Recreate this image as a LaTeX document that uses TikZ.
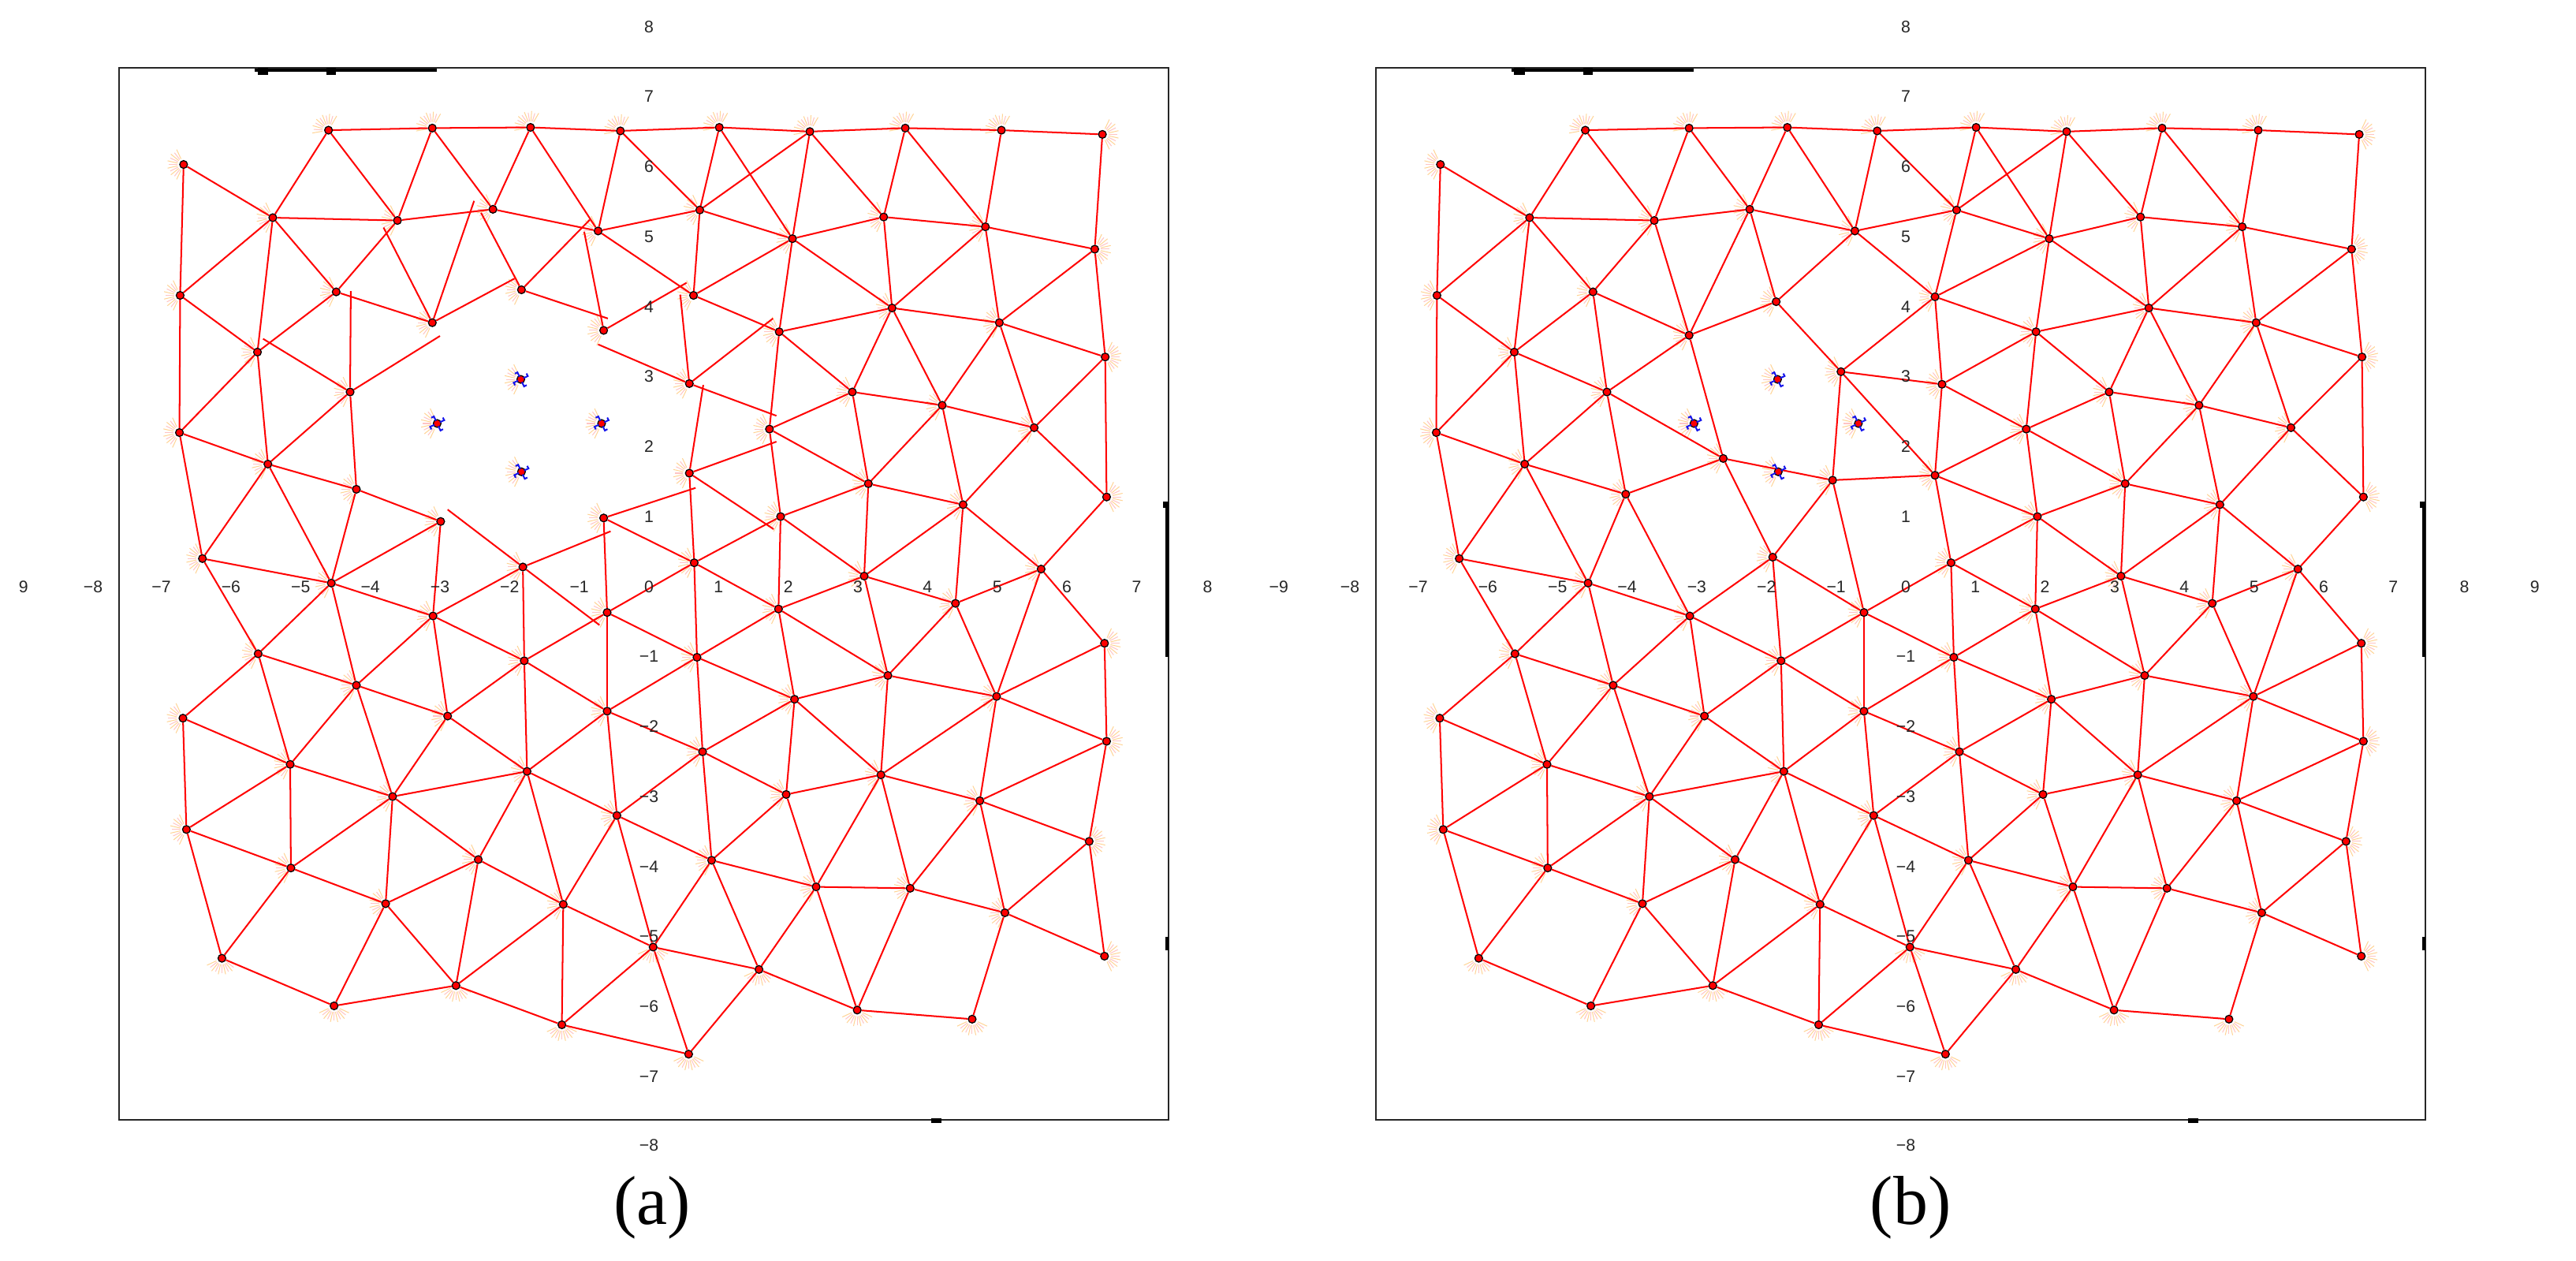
\documentclass[tikz,border=0pt]{standalone}
\usepackage{fontspec}
\setmainfont{Liberation Serif}
\newfontfamily\tickfont{Liberation Sans}
\usetikzlibrary{backgrounds}
\definecolor{meshred}{RGB}{255,0,0}
\definecolor{haloA}{RGB}{255,212,150}
\definecolor{haloB}{RGB}{255,196,196}
\definecolor{ancblue}{RGB}{20,20,235}
\tikzset{
  pt/.style={circle,fill=red,draw=black,line width=0.35pt,inner sep=0pt,minimum size=0.095cm},
  edge/.style={draw=meshred,line width=0.55pt},
  halo/.style={line width=0.28pt},
  frm/.style={draw=black!85,line width=0.5pt},
  ticklab/.style={font=\tickfont\fontsize{5.8}{6}\selectfont,inner sep=0pt,text=black!85},
  captxt/.style={font=\fontsize{24}{26}\selectfont,inner sep=0pt}
}
\newcommand\nd[3]{%
  \node[pt] (#1) at (#2,#3) {};%
  \begin{pgfonlayer}{background}%
    \pgfmathsetmacro\hang{(#2>6.2)?0:((#3<-5.0)?270:((#3>6.3)?125:180))}%
    \foreach \k in {-65,-39,...,65}{\draw[halo,haloA] ([shift={(\hang+\k:0.075cm)}]#1.center) -- ([shift={(\hang+\k:0.2cm)}]#1.center);}%
    \foreach \k in {-52,-26,...,52}{\draw[halo,haloB] ([shift={(\hang+\k:0.075cm)}]#1.center) -- ([shift={(\hang+\k:0.18cm)}]#1.center);}%
  \end{pgfonlayer}}
\newcommand\anc[3]{%
  \nd{#1}{#2}{#3}%
  \foreach \t in {25,115,205,295}{\draw[ancblue,line width=0.55pt] ([shift={(\t:0.035cm)}]#1.center) -- ([shift={(\t:0.095cm)}]#1.center) -- ([shift={(\t+21:0.1cm)}]#1.center);}}
\newcommand\commonnodes[1]{%
  \nd{#1A1}{-4.60}{6.52}\nd{#1A2}{-3.11}{6.55}\nd{#1A3}{-1.70}{6.56}\nd{#1A4}{-0.41}{6.51}%
  \nd{#1B0}{-6.68}{6.03}\nd{#1B1}{-5.40}{5.27}\nd{#1B2}{-3.61}{5.23}\nd{#1B3}{-2.24}{5.39}\nd{#1B4}{-0.73}{5.08}%
  \nd{#1C0}{-6.73}{4.16}\nd{#1C1}{-4.49}{4.21}%
  \nd{#1D1}{-5.62}{3.35}\nd{#1D2}{-4.29}{2.78}%
  \nd{#1E0}{-6.74}{2.20}\nd{#1E1}{-5.47}{1.75}%
  \nd{#1F0}{-6.41}{0.40}\nd{#1F1}{-4.56}{0.05}%
  \anc{#1S1}{-1.84}{2.96}\anc{#1S2}{-3.04}{2.33}\anc{#1S3}{-0.68}{2.33}\anc{#1S4}{-1.83}{1.64}%
  \nd{#1G1}{1.01}{6.56}\nd{#1G2}{2.31}{6.50}\nd{#1G3}{3.68}{6.55}\nd{#1G4}{5.06}{6.52}\nd{#1G5}{6.51}{6.46}%
  \nd{#1H1}{0.73}{5.38}\nd{#1H2}{2.06}{4.97}\nd{#1H3}{3.37}{5.28}\nd{#1H4}{4.83}{5.14}\nd{#1H5}{6.40}{4.82}%
  \nd{#1I2}{1.87}{3.64}\nd{#1I3}{3.49}{3.98}\nd{#1I4}{5.03}{3.77}\nd{#1I5}{6.55}{3.28}%
  \nd{#1J2}{2.92}{2.78}\nd{#1J3}{4.21}{2.59}\nd{#1J4}{5.53}{2.27}%
  \nd{#1K1}{1.73}{2.25}\nd{#1K3}{3.15}{1.47}\nd{#1K4}{4.51}{1.17}\nd{#1K5}{6.57}{1.28}%
  \nd{#1L1}{1.89}{1.00}\nd{#1L2}{0.65}{0.34}\nd{#1L3}{3.09}{0.15}\nd{#1L4}{5.63}{0.25}%
  \nd{#1M1}{-5.61}{-0.96}\nd{#1M2}{-4.20}{-1.41}\nd{#1M3}{-3.10}{-0.42}\nd{#1M4}{-1.79}{-1.06}\nd{#1M5}{-0.60}{-0.37}%
  \nd{#1N0}{-6.69}{-1.88}\nd{#1N1}{-5.15}{-2.54}\nd{#1N2}{-2.89}{-1.85}\nd{#1N3}{-0.60}{-1.78}%
  \nd{#1O1}{-3.68}{-3.00}\nd{#1O2}{-1.75}{-2.64}\nd{#1O3}{-0.46}{-3.27}%
  \nd{#1P0}{-6.64}{-3.47}\nd{#1P1}{-5.14}{-4.02}\nd{#1P2}{-2.45}{-3.90}%
  \nd{#1Q1}{-3.78}{-4.53}\nd{#1Q2}{-1.23}{-4.54}\nd{#1Q3}{0.06}{-5.15}%
  \nd{#1R0}{-6.13}{-5.31}\nd{#1R1}{-2.77}{-5.70}\nd{#1R2}{-4.52}{-5.99}\nd{#1R3}{-1.25}{-6.26}%
  \nd{#1T1}{1.86}{-0.32}\nd{#1T2}{4.40}{-0.24}%
  \nd{#1U1}{0.69}{-1.01}\nd{#1U2}{3.43}{-1.27}\nd{#1U3}{6.54}{-0.81}%
  \nd{#1V1}{2.09}{-1.61}\nd{#1V2}{4.99}{-1.57}\nd{#1V3}{6.57}{-2.21}%
  \nd{#1W1}{0.77}{-2.36}\nd{#1W2}{3.33}{-2.69}%
  \nd{#1X1}{1.97}{-2.97}\nd{#1X2}{4.75}{-3.06}\nd{#1X3}{6.32}{-3.64}%
  \nd{#1Y1}{0.90}{-3.91}\nd{#1Y2}{2.40}{-4.29}\nd{#1Y3}{3.75}{-4.31}\nd{#1Y4}{5.11}{-4.66}\nd{#1Y5}{6.54}{-5.28}%
  \nd{#1Z1}{1.58}{-5.47}\nd{#1Z2}{2.99}{-6.05}\nd{#1Z3}{4.64}{-6.18}\nd{#1Z4}{0.57}{-6.68}%
}
\newcommand\commonedges[1]{%
  \begin{pgfonlayer}{background}%
  \foreach \u/\v in {A1/A2,A2/A3,A3/A4,A4/G1,G1/G2,G2/G3,G3/G4,G4/G5,A1/B1,A1/B2,A2/B2,A2/B3,A3/B3,A3/B4,A4/B4,A4/H1,B4/H1,
    B0/B1,B0/C0,B1/B2,B1/C0,B1/C1,B1/D1,B2/C1,B2/B3,B3/B4,C0/D1,C0/E0,C1/D1,D1/E0,D1/E1,D2/E1,E0/E1,E0/F0,E1/F0,E1/F1,
    F0/F1,F0/M1,F1/M1,F1/M2,F1/M3,
    G1/H1,G1/H2,G2/H1,G2/H2,G2/H3,G3/H3,G3/H4,G4/H4,G5/H5,H1/H2,H2/H3,H3/H4,H4/H5,H2/I2,H2/I3,H3/I3,H4/I3,H4/I4,H5/I4,
    H5/I5,I2/I3,I3/I4,I4/I5,I2/J2,I2/K1,I3/J2,I3/J3,I4/J3,I4/J4,I5/J4,I5/K5,J2/J3,J3/J4,J2/K1,J2/K3,J3/K3,J3/K4,J4/K4,
    J4/K5,K1/K3,K1/L1,K3/K4,K3/L1,K3/L3,K4/L3,K4/L4,K5/L4,L1/L3,L1/L2,L2/M5,L2/T1,L2/U1,L1/T1,L3/T1,L3/U2,L3/T2,K4/T2,
    L4/T2,L4/V2,L4/U3,
    M1/M2,M1/N0,M1/N1,M2/M3,M2/N1,M2/N2,M2/O1,M3/M4,M3/N2,M4/N2,M4/N3,M4/O2,M4/M5,M5/N3,M5/U1,N0/N1,N0/P0,N1/O1,N1/P0,
    N1/P1,N2/O1,N2/O2,N3/O2,N3/O3,N3/U1,N3/W1,O1/O2,O1/P1,O1/P2,O1/Q1,O2/P2,O2/Q2,O2/O3,O3/Q2,O3/Q3,O3/W1,O3/Y1,P0/P1,
    P0/R0,P1/Q1,P1/R0,P2/Q1,P2/Q2,P2/R1,Q1/R1,Q1/R2,Q2/R1,Q2/R3,Q2/Q3,Q3/R3,R0/R2,R1/R2,R1/R3,R3/Z4,
    T1/U1,T1/V1,T1/U2,T2/U2,T2/V2,U1/V1,U1/W1,U2/V1,U2/V2,U2/W2,U3/V2,U3/V3,V1/W1,V1/W2,V1/X1,V2/V3,V2/W2,V2/X2,V3/X2,
    V3/X3,W1/X1,W1/Y1,W2/X1,W2/X2,W2/Y2,W2/Y3,X1/Y1,X1/Y2,X2/X3,X2/Y3,X2/Y4,X3/Y4,X3/Y5,Y1/Q3,Y1/Y2,Y1/Z1,Y2/Y3,Y2/Z1,
    Y2/Z2,Y3/Z2,Y3/Y4,Y4/Z3,Y4/Y5,Q3/Z1,Q3/Z4,Z1/Z2,Z1/Z4,Z2/Z3}{\draw[edge] (#1\u) -- (#1\v);}%
  \end{pgfonlayer}}
\newcommand\axesframe{%
  \draw[frm] (-7.61,-7.62) rectangle (7.46,7.41);
  \draw[black,line width=1.1pt] (-5.66,7.38) -- (-3.05,7.38);
  \fill[black] (-5.62,7.31) rectangle (-5.47,7.41);
  \fill[black] (-4.63,7.31) rectangle (-4.49,7.41);
  \draw[black,line width=1.2pt] (7.44,1.2) -- (7.44,-1.0);
  \fill[black] (7.38,1.22) rectangle (7.46,1.12);
  \draw[black,line width=1.2pt] (7.44,-5.0) -- (7.44,-5.2);
  \fill[black] (4.05,-7.66) rectangle (4.2,-7.6);
  \foreach \i in {1,...,7}{%
    \node[ticklab] at (\i,0) {\i};
    \node[ticklab] at (-\i,0) {−\i};
    \node[ticklab] at (0,\i) {\i};
    \node[ticklab] at (0,-\i) {−\i};}
  \node[ticklab] at (0,0) {0};
  \node[ticklab] at (0,8) {8};
  \node[ticklab] at (0,-7.98) {−8};
  \node[ticklab] at (-7.98,0) {−8};
  \node[ticklab] at (8.02,0) {8};
}
\begin{document}
\begin{tikzpicture}
\useasboundingbox (0,0) rectangle (31.36,15.34);
% ---------------- panel (a)
\begin{scope}[shift={(7.90,8.20)},x=0.848cm,y=0.852cm]
  \axesframe
  \node[ticklab] at (-8.98,0) {9};
  \commonnodes{a}
  \nd{aC2}{-3.11}{3.77}\nd{aC3}{-1.83}{4.24}\nd{aC4}{-0.65}{3.66}
  \nd{aE2}{-4.20}{1.39}\nd{aE3}{-2.99}{0.93}\nd{aE4}{-0.65}{0.98}\nd{aF2}{-1.81}{0.28}
  \nd{aI1}{0.64}{4.16}\nd{aJ1}{0.58}{2.90}\nd{aK2}{0.58}{1.62}
  \coordinate (ad1) at (-3.81,5.13); \coordinate (ad2) at (-2.51,5.51);
  \coordinate (ad3) at (-2.41,5.34); \coordinate (ad4) at (-1.93,4.40);
  \coordinate (ad5) at (-0.59,3.83); \coordinate (ad6) at (-0.85,5.24);
  \coordinate (ad7) at (-0.93,5.07); \coordinate (ad8) at (0.54,4.34);
  \coordinate (ad9) at (-0.73,3.46); \coordinate (ad10) at (1.83,2.44);
  \coordinate (ad11) at (-3.00,3.58); \coordinate (ad12) at (-5.54,3.54);
  \coordinate (ad13) at (-4.28,4.22); \coordinate (ad14) at (-2.89,1.10);
  \coordinate (ad15) at (-0.55,0.79); \coordinate (ad16) at (0.45,4.17);
  \coordinate (ad17) at (1.78,3.83); \coordinate (ad18) at (0.78,2.88);
  \coordinate (ad19) at (1.83,2.07); \coordinate (ad20) at (1.79,0.82);
  \coordinate (ad21) at (0.67,1.41); \coordinate (ad22) at (-0.71,-0.55);
  \commonedges{a}
  \begin{pgfonlayer}{background}
  \foreach \u/\v in {d1/C2,d2/C2,C1/C2,C2/d4,d3/C3,C3/d5,C3/d6,d7/C4,C4/d8,d9/J1,J1/d10,d11/D2,d12/D2,d13/D2,
    D2/E2,E1/E2,E2/E3,E2/F1,E3/F1,E3/M3,d14/F2,d15/F2,F2/M3,F2/M4,F2/d22,E4/M5,E4/d21,E4/L2,
    H1/I1,H2/I1,I1/I2,B4/I1,d16/J1,J1/d17,d18/K2,K2/d19,K2/d20,K2/L2}{\draw[edge] (a\u) -- (a\v);}
  \end{pgfonlayer}
  \node[captxt] (capa) at (0.05,-8.87) {(a)};
\end{scope}
% ---------------- panel (b)
\begin{scope}[shift={(23.20,8.20)},x=0.848cm,y=0.852cm]
  \axesframe
  \node[ticklab] at (-9.0,0) {−9};
  \node[ticklab] at (9.03,0) {9};
  \commonnodes{b}
  \nd{bC2}{-3.11}{3.59}\nd{bC3}{-1.86}{4.07}\nd{bC4}{-0.93}{3.07}
  \nd{bE2}{-4.02}{1.32}\nd{bE3}{-2.62}{1.83}\nd{bE4}{-1.05}{1.52}\nd{bF2}{-1.91}{0.42}
  \nd{bI1}{0.42}{4.14}\nd{bJ1}{0.52}{2.89}\nd{bK2}{0.42}{1.59}
  \commonedges{b}
  \begin{pgfonlayer}{background}
  \foreach \u/\v in {B2/C2,B3/C2,B3/C3,B4/C3,C1/C2,C1/D2,D1/D2,C2/C3,C2/D2,C2/E3,C3/C4,C4/I1,C4/J1,C4/K2,C4/E4,
    D2/E2,D2/E3,E1/E2,E2/E3,E2/F1,E2/M3,E3/E4,E3/F2,E4/F2,E4/K2,E4/M5,F2/M3,F2/M4,F2/M5,
    H1/I1,H2/I1,I1/I2,B4/I1,I1/J1,I2/J1,J1/K1,J1/K2,K2/K1,K2/L1,K2/L2}{\draw[edge] (b\u) -- (b\v);}
  \end{pgfonlayer}
  \node[captxt] (capb) at (0.07,-8.87) {(b)};
\end{scope}
\end{tikzpicture}
\end{document}
